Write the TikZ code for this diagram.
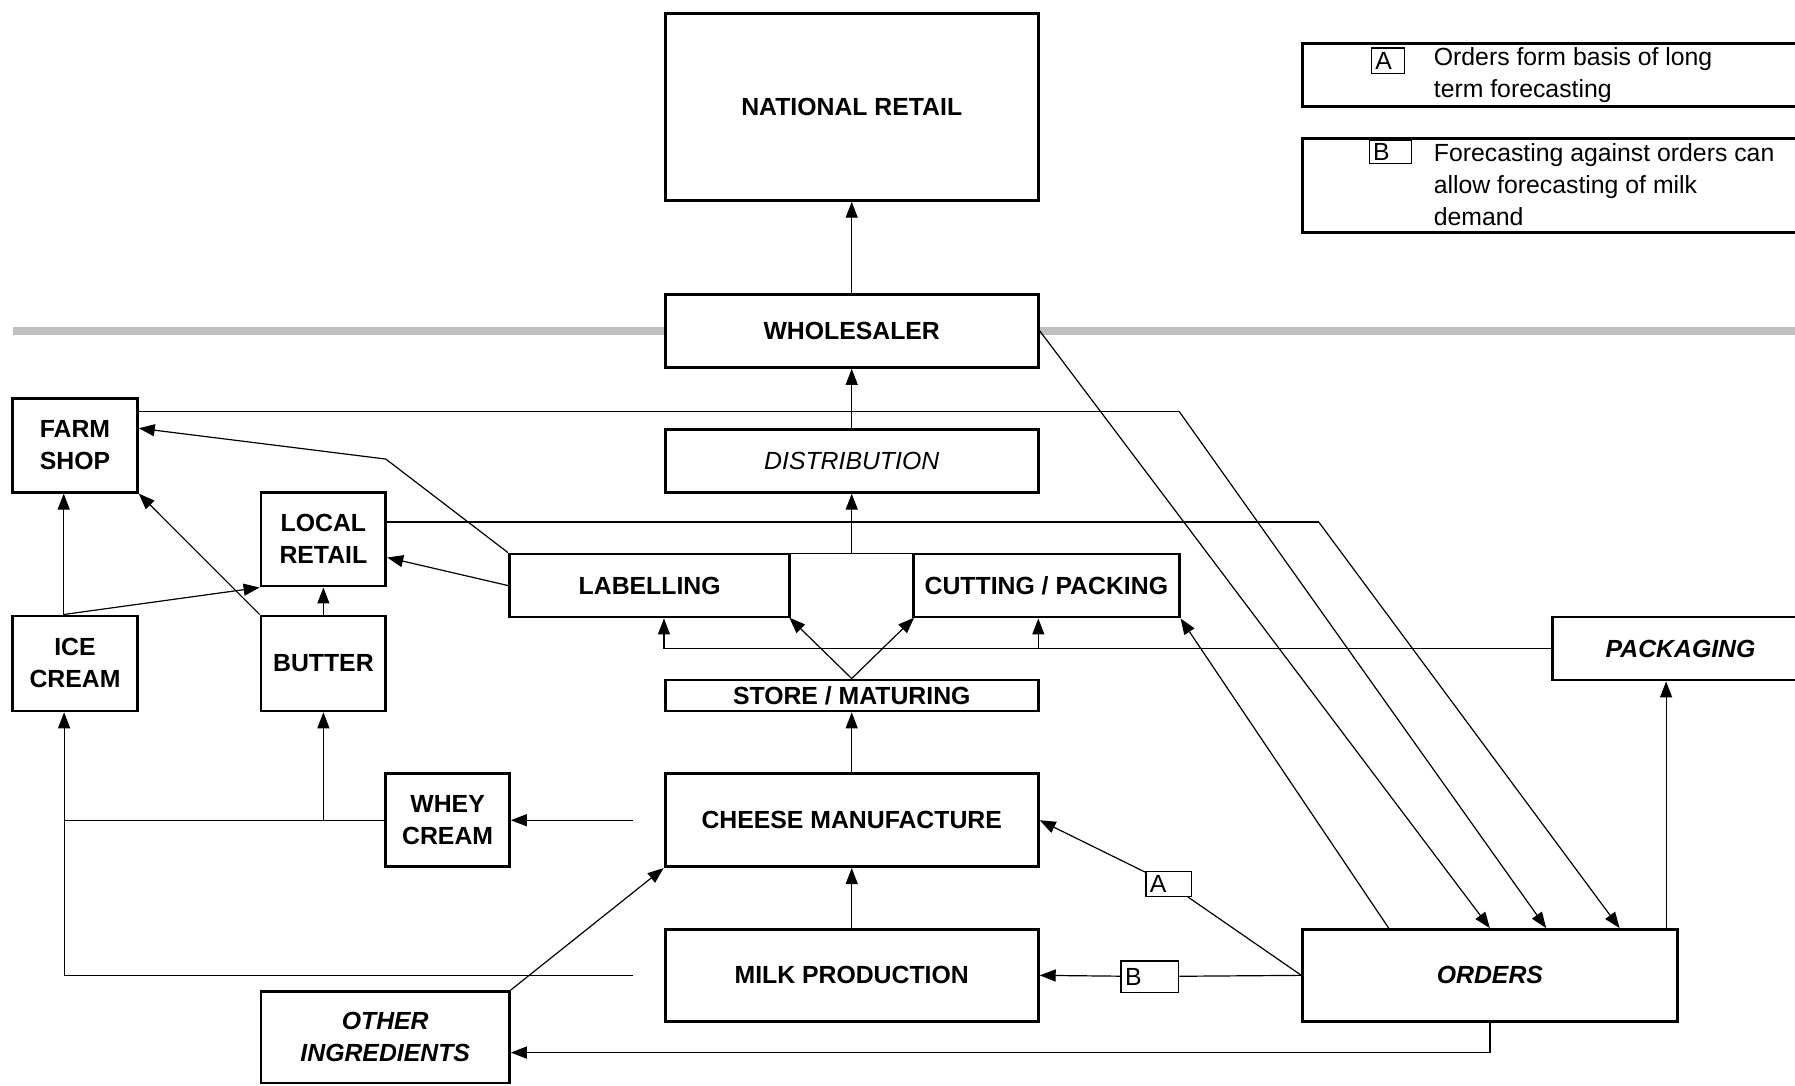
\documentclass[tikz,border=0pt]{standalone}
\usepackage{fontspec}
\setmainfont{Liberation Sans}
\usetikzlibrary{arrows.meta}

\begin{document}
\begin{tikzpicture}[>={Triangle[length=8pt,width=6pt]},line width=0.6pt,
				x=0.5724pt,y=-0.5724pt,
				main node/.style={rectangle,draw,line width=1.4pt,fill=white,inner sep=1pt,align=center,
					font=\fontsize{12.4}{16}\selectfont\bfseries},
				ital node/.style={main node,font=\fontsize{12.4}{16}\selectfont\bfseries\itshape},
				tag node/.style={rectangle,draw,line width=0.6pt,inner xsep=2pt,inner ysep=0pt,align=left,
					font=\fontsize{12.4}{15}\selectfont}]
				
				\useasboundingbox (0,0) rectangle (1568,948);
				\draw[gray!50,line width=4pt] (11,289) -- (1568,289);
				
				\node[main node,minimum width=186.6pt,minimum height=93.3pt] (natret) at (744,93.5) {NATIONAL RETAIL};
				\node[main node,minimum width=186.6pt,minimum height=36.6pt] (whole) at (744,289) {WHOLESALER};
				\node[main node,minimum width=186.6pt,minimum height=31.5pt,
					font=\fontsize{12.4}{16}\selectfont\itshape] (distrib) at (744,402.5) {DISTRIBUTION};
				\node[minimum width=61.8pt,minimum height=31.5pt,inner sep=0pt] (mid) at (744,511.5) {};
				\draw (mid.north west) -- (mid.north east);
				\node[main node,minimum width=140.2pt,minimum height=31.5pt] (label) at (567.5,511.5) {LABELLING};
				\node[main node,minimum width=132.8pt,minimum height=31.5pt] (cut) at (914,511.5) {CUTTING / PACKING};
				\node[main node,minimum width=186.6pt,minimum height=15.5pt] (store) at (744,607.5) {STORE / MATURING};
				\node[main node,minimum width=186.6pt,minimum height=46.4pt] (cheese) at (744,716.5) {CHEESE MANUFACTURE};
				\node[main node,minimum width=186.6pt,minimum height=45.8pt] (milk) at (744,852) {MILK PRODUCTION};
				
				\node[main node,minimum width=62.4pt,minimum height=46.9pt] (farm) at (65.5,389) {FARM\\SHOP};
				\node[main node,minimum width=62.4pt,minimum height=46.9pt] (local) at (282.5,471) {LOCAL\\RETAIL};
				\node[main node,minimum width=62.4pt,minimum height=47.5pt] (ice) at (65.5,579.5) {ICE\\CREAM};
				\node[main node,minimum width=62.4pt,minimum height=47.5pt] (butter) at (282.5,579.5) {BUTTER};
				\node[main node,minimum width=61.8pt,minimum height=46.4pt] (whey) at (391,716.5) {WHEY\\CREAM};
				\node[ital node,minimum width=124.2pt,minimum height=45.8pt] (other) at (336.5,906) {OTHER\\INGREDIENTS};
				\node[ital node,minimum width=128.2pt,minimum height=31.5pt] (pack) at (1468,566.5) {PACKAGING};
				\node[ital node,minimum width=187.2pt,minimum height=45.8pt] (orders) at (1301.5,852) {ORDERS};
				
				\node[tag node,text width=18.9pt,minimum height=12.6pt] (tagA) at (1021,772) {A};
				\node[tag node,text width=24.9pt,minimum height=15.6pt] (tagB) at (1004.5,853) {B};
				
				% key
				\node[main node,minimum width=253pt,minimum height=31.5pt] (legA) at (1359,65.5) {};
				\node[main node,minimum width=253pt,minimum height=46.9pt] (legB) at (1359,162) {};
				\node[tag node,text width=12.6pt,minimum height=12.6pt] (keyA) at (1212.5,53) {A};
				\node[tag node,text width=17.2pt,minimum height=11.4pt] (keyB) at (1214.5,133) {B};
				\node[anchor=west,align=left,inner sep=0pt,font=\fontsize{12.4}{16}\selectfont] (txtA) at (1252,66)
					{Orders form basis of long\\term forecasting};
				\node[anchor=west,align=left,inner sep=0pt,font=\fontsize{12.4}{16}\selectfont] (txtB) at (1252,161.5)
					{Forecasting against orders can\\allow forecasting of milk\\demand};
				
				\coordinate (bend1) at (337,401);
				\coordinate (bend2) at (1030,0);
				\coordinate (bend3) at (1152,0);
				\coordinate (join1) at (580,566.5);
				\coordinate (join2) at (907,566.5);
				\coordinate (wstart) at (553,716.5);
				\coordinate (milkout) at (553,852);
				\coordinate (leftcol) at (56,852);
				
				\path[->]
				(whole) edge (natret)
				(distrib) edge (whole)
				(mid) edge (distrib)
				(store.north) edge (mid.south west)
				(store.north) edge (mid.south east)
				(cheese) edge (store)
				(milk) edge (cheese)
				(label.west) edge (local.-16)
				(whole.east) edge (orders.north)
				(orders.155) edge (cut.south east)
				(tagA) edge (cheese.east)
				(tagB) edge (milk.east)
				(orders.15) edge (orders.15 |- pack.south)
				(other.north east) edge (cheese.south west)
				(butter.north west) edge (farm.south east)
				(butter) edge (local)
				(ice.103) edge (ice.103 |- farm.south)
				(ice.103) edge (local.south west)
				(join1) edge (join1 |- label.south)
				(join2) edge (join2 |- cut.south)
				(wstart) edge (whey.east);
				
				\draw (label.north west) -- (bend1) edge[->] (farm.15);
				\draw (farm.28) -- (farm.28 -| bend2) edge[->] (orders.40);
				\draw (local.15) -- (local.15 -| bend3) edge[->] (orders.20);
				\draw (orders.west) -- (tagA);
				\draw (orders.west) -- (tagB);
				\draw[->] (orders.south) |- (other.-7);
				\draw (pack.west) -- (join1);
				\draw (whey.west) -- (whey.west -| leftcol);
				\draw[->] (butter.south |- whey.west) -- (butter.south);
				\draw (milkout) -- (leftcol) edge[->] (leftcol |- ice.south);
				
				\end{tikzpicture}
\end{document}
